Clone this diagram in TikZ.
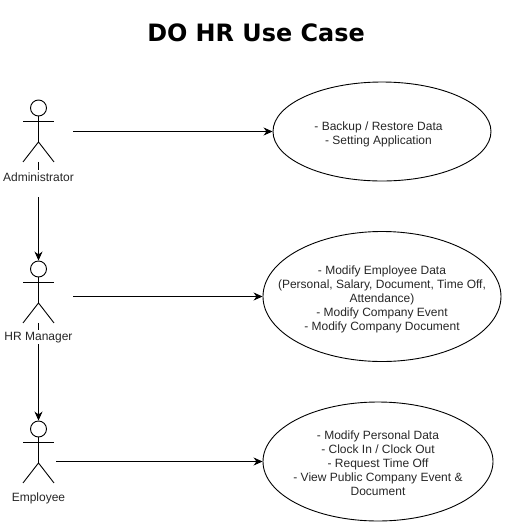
\documentclass[tikz,border=0pt]{standalone}
\usepackage{fontspec}
\setmainfont{Liberation Sans}
\newfontfamily\titlefont{DejaVu Sans}
\usetikzlibrary{positioning,shapes.geometric,arrows.meta}
\newcommand{\toproom}[1]{\rule{0pt}{#1}}
\newcommand{\nudge}{\rule{7pt}{0pt}}
\tikzset{
    usecase/.style={ellipse,draw,line width=0.9pt,inner xsep=-25pt,inner ysep=0pt,align=center,text=black!85,font=\fontsize{12}{13.9}\selectfont},
    actorlabel/.style={inner sep=0pt,text=black!85,font=\fontsize{12}{14}\selectfont},
    link/.style={-{Stealth[length=9pt,width=8pt]},line width=0.9pt},
    actor/.pic={
        \node (head) [circle,draw,line width=0.9pt,minimum size=16pt,inner sep=0pt] {};
        \coordinate (neck) at (head.south);
        \coordinate (arms) at ([yshift=-4.5pt]neck);
        \coordinate (hip) at ([yshift=-25.5pt]neck);
        \coordinate (footl) at ([xshift=-15.5pt,yshift=-20pt]hip);
        \coordinate (footr) at ([xshift=15.5pt,yshift=-20pt]hip);
        \draw[line width=0.9pt] (neck) -- (hip);
        \draw[line width=0.9pt] ([xshift=-15.5pt]arms) -- ([xshift=15.5pt]arms);
        \draw[line width=0.9pt] (footl) -- (hip) -- (footr);
    }
}
\begin{document}
\begin{tikzpicture}[x=1pt,y=-1pt]
    \useasboundingbox (0,0) rectangle (505,523);
    \node (title) at (256,33) {\titlefont\fontsize{23.9}{28}\selectfont\bfseries DO HR Use Case};

    % Actors
    \pic (admin) at (38.5,108) {actor};
    \pic (manager) at (38.5,269) {actor};
    \pic (employee) at (38.5,429) {actor};
    \node (admin_label) [actorlabel] at (38.5,177.5) {Administrator};
    \node (manager_label) [actorlabel] at (38.5,337.5) {HR Manager};
    \node (employee_label) [actorlabel] at (38.5,498) {Employee};

    % Use cases
    \node (backup) [usecase,minimum width=218pt,minimum height=99pt] at (382,131.5)
        {\toproom{14pt}- Backup / Restore Data\nudge\\- Setting Application\nudge};
    \node (modify) [usecase,minimum width=238pt,minimum height=130pt] at (382,296.5)
        {\toproom{14pt}- Modify Employee Data\\(Personal, Salary, Document, Time Off,\\Attendance)\\- Modify Company Event\\- Modify Company Document};
    \node (personal) [usecase,minimum width=230pt,minimum height=119pt] at (378,461.5)
        {\toproom{12.5pt}- Modify Personal Data\\- Clock In / Clock Out\\- Request Time Off\\- View Public Company Event \&\\Document};

    % Free ends of the connectors
    \coordinate (admin_out) at (73,131.5);
    \coordinate (manager_out) at (73,296.5);
    \coordinate (employee_out) at (56,461.5);
    \coordinate (admin_down) at (38.5,197);
    \coordinate (manager_down) at (38.5,344);
    \coordinate (admin_stub) at (38.5,170);
    \coordinate (manager_stub) at (38.5,330);

    \draw[link] (admin_out) -- (backup.west);
    \draw[link] (manager_out) -- (modify.west);
    \draw[link] (employee_out) -- (personal.west);
    \draw[link] (admin_down) -- (managerhead.north);
    \draw[link] (manager_down) -- (employeehead.north);
    \draw[line width=0.9pt] (adminhip |- adminfootl) -- (admin_stub);
    \draw[line width=0.9pt] (managerhip |- managerfootl) -- (manager_stub);
\end{tikzpicture}
\end{document}
